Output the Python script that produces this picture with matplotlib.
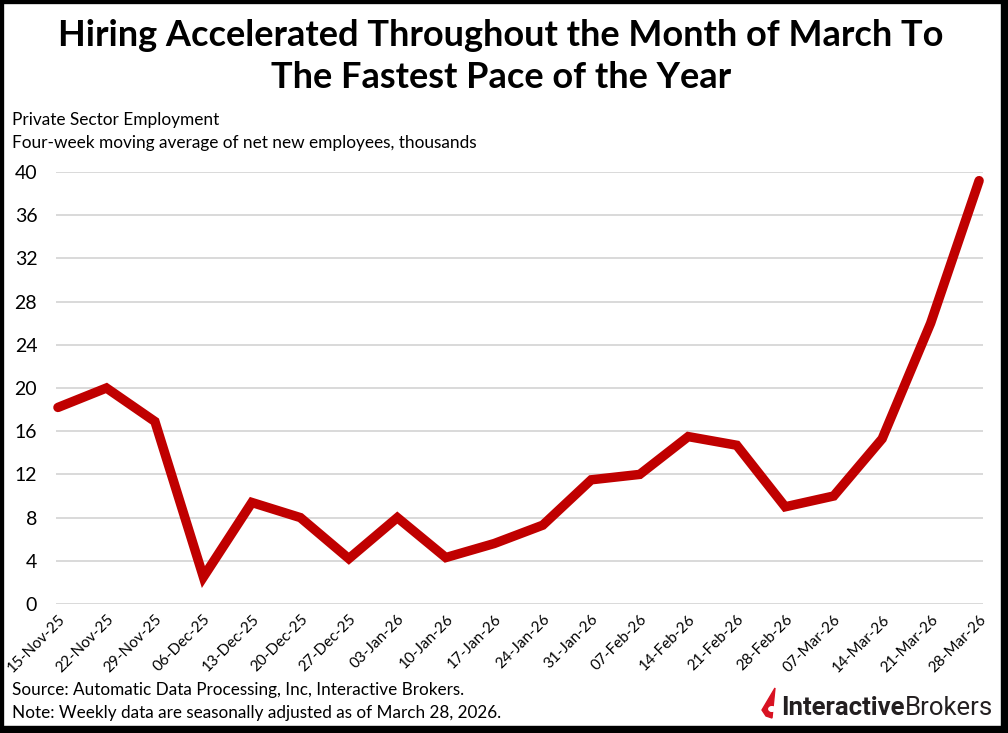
import matplotlib
matplotlib.use('Agg')
import matplotlib.pyplot as plt
from matplotlib.patches import Rectangle, Polygon, Circle

# weekly dates and four-week moving average (thousands)
dates = ['15-Nov-25', '22-Nov-25', '29-Nov-25', '06-Dec-25', '13-Dec-25', '20-Dec-25',
         '27-Dec-25', '03-Jan-26', '10-Jan-26', '17-Jan-26', '24-Jan-26', '31-Jan-26',
         '07-Feb-26', '14-Feb-26', '21-Feb-26', '28-Feb-26', '07-Mar-26', '14-Mar-26',
         '21-Mar-26', '28-Mar-26']
net_new = [18.2, 20.0, 16.9, 2.5, 9.4, 8.0, 4.2, 8.0, 4.3, 5.6, 7.3, 11.5,
           12.0, 15.5, 14.7, 9.0, 10.0, 15.3, 26.0, 39.2]
yticks = [0, 4, 8, 12, 16, 20, 24, 28, 32, 36, 40]

plt.rcParams['font.family'] = ['Lato', 'DejaVu Sans']

fig = plt.figure(figsize=(10.08, 7.33), dpi=100)
ax = fig.add_axes([56 / 1008, 1 - 604 / 733, (983 - 56) / 1008, (604 - 172) / 733])

x = list(range(len(dates)))
ax.plot(x, net_new, color='#C00000', linewidth=6.8, solid_joinstyle='miter',
        solid_capstyle='round', clip_on=False, zorder=3)

ax.set_ylim(0, 40)
ax.set_xlim(-0.04, len(dates) - 1 + 0.08)
ax.set_yticks(yticks)
ax.set_xticks(x)
ax.set_xticklabels(dates, rotation=45, ha='right', rotation_mode='anchor')
ax.tick_params(axis='y', length=0, pad=13.5, labelsize=14)
ax.tick_params(axis='x', length=0, pad=6, labelsize=11)
ax.grid(axis='y', color='#d9d9d9', linewidth=1.4)
ax.set_axisbelow(True)
for s in ax.spines.values():
    s.set_visible(False)

# titles
fig.text(0.497, 1 - 35 / 733, 'Hiring Accelerated Throughout the Month of March To',
         ha='center', va='center', fontsize=26, fontweight='bold')
fig.text(0.497, 1 - 78 / 733, 'The Fastest Pace of the Year',
         ha='center', va='center', fontsize=26, fontweight='bold')
fig.text(12 / 1008, 1 - 120 / 733, 'Private Sector Employment',
         ha='left', va='center', fontsize=12.4)
fig.text(12 / 1008, 1 - 143 / 733, 'Four-week moving average of net new employees, thousands',
         ha='left', va='center', fontsize=12.4)

# footnotes
fig.text(12 / 1008, 1 - 690 / 733, 'Source: Automatic Data Processing, Inc, Interactive Brokers.',
         ha='left', va='center', fontsize=12.3)
fig.text(12 / 1008, 1 - 713 / 733, 'Note: Weekly data are seasonally adjusted as of March 28, 2026.',
         ha='left', va='center', fontsize=12.3)

# logo
fig.patches.append(Polygon([(762 / 1008, 1 - 710 / 733), (775 / 1008, 1 - 688 / 733),
                            (772 / 1008, 1 - 718 / 733), (766 / 1008, 1 - 716 / 733)],
                           closed=True, transform=fig.transFigure, color='#D81222'))
fig.patches.append(Circle((772 / 1008, 1 - 709 / 733), 3.2 / 1008, transform=fig.transFigure,
                          color='white'))
t1 = fig.text(781 / 1008, 1 - 708 / 733, 'Interactive', ha='left', va='center',
              fontsize=18.5, fontweight='bold', color='#231f20', family=['Roboto', 'DejaVu Sans'])
fig.canvas.draw()
bb = t1.get_window_extent()
fig.text(bb.x1 / 1008, 1 - 708 / 733, 'Brokers', ha='left', va='center',
         fontsize=18.5, color='#231f20', family=['Roboto', 'DejaVu Sans'])

# black frame with shadow on right/bottom
fig.patches.append(Rectangle((0, 0), 1, 1, transform=fig.transFigure, fill=False,
                             edgecolor='black', linewidth=6))
fig.patches.append(Rectangle((1001 / 1008, 0), 7 / 1008, 1, transform=fig.transFigure,
                             color='black'))
fig.patches.append(Rectangle((0, 0), 1, 7 / 733, transform=fig.transFigure, color='black'))

fig.savefig('out.png', dpi=100)
